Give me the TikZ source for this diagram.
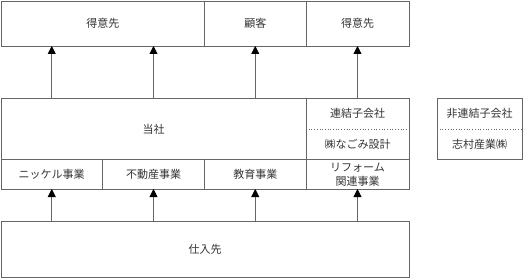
\documentclass[tikz,border=0pt]{standalone}
\usepackage{fontspec}
\newfontfamily\jpfont{Noto Sans CJK JP}
\usetikzlibrary{positioning, arrows.meta}

\begin{document}
\begin{tikzpicture}[
        x=1pt, y=-1pt,
        font=\jpfont\fontsize{11}{14}\selectfont,
        % Style for the framed boxes
        box/.style={
            rectangle, draw=black!60, line width=0.9pt, text=black!80,
            inner sep=0pt, outer sep=0pt, align=center
        },
        % Style for the halves of the subsidiary boxes
        half/.style={
            rectangle, inner sep=0pt, outer sep=0pt, text=black!80,
            minimum height=30.5pt
        },
        line/.style={draw=black!60, line width=0.9pt, -{Triangle[length=8pt, width=8pt, color=black]}}
    ]
        \useasboundingbox (0,0) rectangle (523,278);

        % --- Nodes ---

        % 1. Customers (top row)
        \node [box, minimum width=203.5pt, minimum height=45pt] (tokui1) at (102.75,23.5) {得意先};
        \node [box, minimum width=101.5pt, minimum height=45pt] (kokyaku) at (255.25,23.5) {顧客};
        \node [box, minimum width=103pt, minimum height=45pt] (tokui2) at (357.5,23.5) {得意先};

        % 2. The company and its subsidiaries
        \node [box, minimum width=305pt, minimum height=61pt] (tousha) at (153.5,129) {当社};
        \node [half, minimum width=103pt] (renketsu) at (357.5,113.75) {連結子会社};
        \node [half, minimum width=103pt] (nagomi) at (357.5,144.25) {㈱なごみ設計};
        \node [half, minimum width=85pt] (hirenketsu) at (479.5,113.75) {非連結子会社};
        \node [half, minimum width=85pt] (shimura) at (479.5,144.25) {志村産業㈱};

        \draw [draw=black!60, line width=0.9pt] (renketsu.north west) rectangle (nagomi.south east);
        \draw [draw=black!60, line width=0.9pt] (hirenketsu.north west) rectangle (shimura.south east);
        \draw [draw=black!60, line width=0.7pt, dotted] (renketsu.south west) -- (renketsu.south east);
        \draw [draw=black!60, line width=0.7pt, dotted] (hirenketsu.south west) -- (hirenketsu.south east);

        % 3. Business segments
        \node [box, minimum width=101.5pt, minimum height=29.5pt] (nickel) at (51.75,174.25) {ニッケル事業};
        \node [box, minimum width=102pt, minimum height=29.5pt] (fudousan) at (153.5,174.25) {不動産事業};
        \node [box, minimum width=101.5pt, minimum height=29.5pt] (kyouiku) at (255.25,174.25) {教育事業};
        \node [box, minimum width=103pt, minimum height=29.5pt, font=\jpfont\fontsize{11}{14}\selectfont] (reform) at (357.5,174.25) {リフォーム\\関連事業};

        % 4. Suppliers
        \node [box, minimum width=408pt, minimum height=56pt] (shiire) at (205,249) {仕入先};

        % --- Edges ---

        % Suppliers to segments
        \foreach \seg in {nickel, fudousan, kyouiku, reform}
            \path [line] (shiire.north -| \seg) -- (\seg.south);

        % Company to customers
        \path [line] (tousha.north -| nickel) -- (tokui1.south -| nickel);
        \path [line] (tousha.north -| fudousan) -- (tokui1.south -| fudousan);
        \path [line] (tousha.north -| kyouiku) -- (kokyaku.south);
        \path [line] (renketsu.north) -- (tokui2.south);

    \end{tikzpicture}
\end{document}
